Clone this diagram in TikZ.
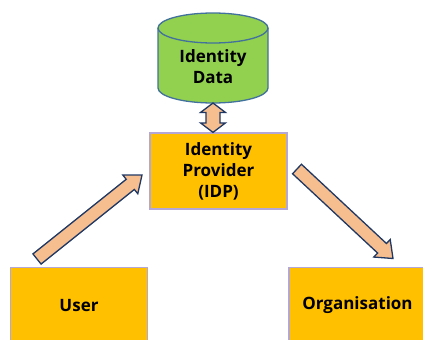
\documentclass[tikz,border=0pt]{standalone}
\usepackage{fontspec}
\setmainfont{Open Sans}
\usetikzlibrary{calc}

\definecolor{boxorange}{HTML}{FFC000}
\definecolor{boxline}{HTML}{B4A7D6}
\definecolor{dbgreen}{HTML}{92D050}
\definecolor{dbline}{HTML}{41719C}
\definecolor{arrowfill}{HTML}{F6BD8E}
\definecolor{arrowline}{HTML}{1F3864}

% block arrow: from, to, shaft half width, head half width, head length
\newcommand{\blockarrow}[5]{%
  \coordinate (ba-h) at ($(#2)!#5!(#1)$);
  \filldraw[arrowshape] ($(#1)!#3!90:(#2)$) -- ($(ba-h)!#3!90:(#2)$)
    -- ($(ba-h)!#4!90:(#2)$) -- (#2) -- ($(ba-h)!#4!-90:(#2)$)
    -- ($(ba-h)!#3!-90:(#2)$) -- ($(#1)!#3!-90:(#2)$) -- cycle;
}

\begin{document}
\begin{tikzpicture}[x=1pt,y=-1pt]
\tikzset{every node/.style={font=\bfseries\fontsize{17}{21}\selectfont, align=center},
  box/.style={draw=boxline, fill=boxorange, line width=1.2pt,
    minimum width=137pt, minimum height=76pt, inner sep=0pt},
  arrowshape/.style={draw=arrowline, fill=arrowfill, line width=1.3pt, line join=miter}}
        \useasboundingbox (0,0) rectangle (423,340);
        \clip (0,0) rectangle (423,340);

        % identity data store
        \fill[dbgreen] (158,28) -- (158,88) arc[start angle=180, end angle=0, x radius=55, y radius=15]
            -- (268,28) arc[start angle=0, end angle=-180, x radius=55, y radius=15] -- cycle;
        \draw[dbline, line width=1.3pt] (158,28) -- (158,88) arc[start angle=180, end angle=0, x radius=55, y radius=15]
            -- (268,28);
        \draw[dbline, line width=1.3pt] (213,28) ellipse[x radius=55, y radius=15];
        \node (data) at (213,67) {Identity\\Data};
        \coordinate (dbbase) at (213,103);

        % boxes
        \node[box] (idp) at (218.5,171) {Identity\\Provider\\(IDP)};
        \node[box] (user) at (79,305.5) {User};
        \node[box] (org) at (357.5,305.5) {Organisation};

        % arrows
        \coordinate (idptop) at (idp.north -| dbbase);
        \coordinate (dbh1) at ($(dbbase)!9.5pt!(idptop)$);
        \coordinate (dbh2) at ($(idptop)!9.5pt!(dbbase)$);
        \filldraw[arrowshape] (dbbase) -- ($(dbh1)!12.5pt!90:(idptop)$) -- ($(dbh1)!7pt!90:(idptop)$)
            -- ($(dbh2)!7pt!90:(idptop)$) -- ($(dbh2)!12.5pt!90:(idptop)$) -- (idptop)
            -- ($(dbh2)!12.5pt!-90:(idptop)$) -- ($(dbh2)!7pt!-90:(idptop)$)
            -- ($(dbh1)!7pt!-90:(idptop)$) -- ($(dbh1)!12.5pt!-90:(idptop)$) -- cycle;

        \coordinate (usertail) at (37,259);
        \coordinate (usertip) at (142,175);
        \blockarrow{usertail}{usertip}{6.5pt}{12pt}{15pt}

        \coordinate (orgtail) at (297,169);
        \coordinate (orgtip) at (393,258.5);
        \blockarrow{orgtail}{orgtip}{6.5pt}{12pt}{15pt}
\end{tikzpicture}
\end{document}
